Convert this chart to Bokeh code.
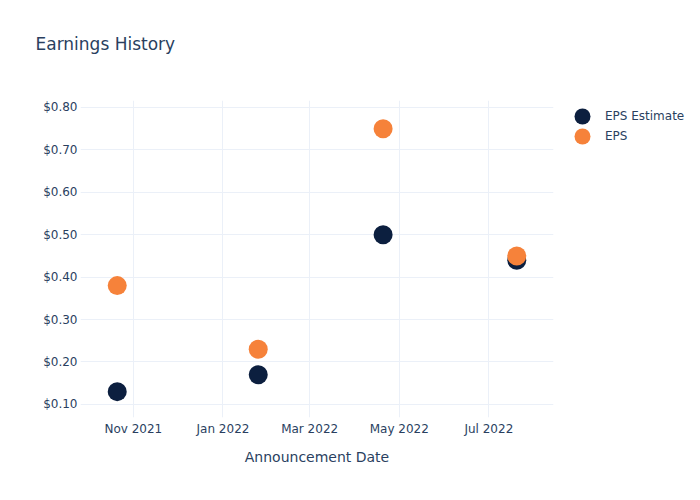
from datetime import datetime
from bokeh.plotting import figure
from bokeh.models import (Range1d, FixedTicker, MonthsTicker, DatetimeTickFormatter,
                          NumeralTickFormatter, Legend, LegendItem, ColumnDataSource, Title)
from bokeh.embed import file_html
from bokeh.resources import INLINE

dates = ["2021-10-21", "2022-01-25", "2022-04-20", "2022-07-20"]
eps_estimate = [0.13, 0.17, 0.50, 0.44]
eps_actual = [0.38, 0.23, 0.75, 0.45]
y_ticks = [0.1, 0.2, 0.3, 0.4, 0.5, 0.6, 0.7, 0.8]
series_names = ["EPS Estimate", "EPS"]
chart_title = "Earnings History"

FONT = "DejaVu Sans"
TXT = "#2a3f5f"
GRID = "#ebf0f8"
NAVY = "#0c1f3f"
ORANGE = "#f6823a"

xs = [datetime.strptime(d, "%Y-%m-%d") for d in dates]
src = ColumnDataSource(dict(x=xs, est=eps_estimate, eps=eps_actual))

p = figure(frame_width=473, frame_height=317, output_backend="svg", toolbar_location=None,
           x_axis_type="datetime",
           x_range=Range1d(datetime(2021, 9, 26), datetime(2022, 8, 14)),
           y_range=Range1d(0.069, 0.8165),
           min_border_left=80, min_border_right=147, min_border_top=100, min_border_bottom=83,
           title=None)
p.outline_line_color = None
p.background_fill_color = "white"
p.border_fill_color = "white"

# spacer between the title and the plot area (closest to the frame)
p.add_layout(Title(text=" ", text_font=FONT, text_font_size="17px", standoff=23), "above")
# the real title, stacked above the spacer
p.add_layout(Title(text=chart_title, text_font=FONT, text_font_size="17px",
                   text_font_style="normal", text_color=TXT, offset=-45,
                   standoff=0, vertical_align="top"), "above")

r1 = p.ellipse("x", "est", source=src, width=19, height=19,
               width_units="screen", height_units="screen",
               fill_color=NAVY, line_color=None)
r2 = p.ellipse("x", "eps", source=src, width=19, height=19,
               width_units="screen", height_units="screen",
               fill_color=ORANGE, line_color=None)

p.xaxis.ticker = MonthsTicker(months=[0, 2, 4, 6, 8, 10])
p.xaxis.formatter = DatetimeTickFormatter(months="%b %Y", days="%b %Y")
p.yaxis.ticker = FixedTicker(ticks=y_ticks)
p.yaxis.formatter = NumeralTickFormatter(format="$0.00")

for ax in (p.xaxis[0], p.yaxis[0]):
    ax.axis_line_color = None
    ax.major_tick_line_color = None
    ax.minor_tick_line_color = None
    ax.major_tick_out = 0
    ax.major_tick_in = 0
    ax.major_label_text_font = FONT
    ax.major_label_text_font_size = "12px"
    ax.major_label_text_color = TXT
p.yaxis.major_label_standoff = 3
p.xaxis.major_label_standoff = 4
p.xaxis.axis_label = "Announcement Date"
p.xaxis.axis_label_text_font = FONT
p.xaxis.axis_label_text_font_size = "14px"
p.xaxis.axis_label_text_font_style = "normal"
p.xaxis.axis_label_text_color = TXT
p.xaxis.axis_label_standoff = 10

p.xgrid.grid_line_color = GRID
p.ygrid.grid_line_color = GRID
p.xgrid.grid_line_width = 1
p.ygrid.grid_line_width = 1

legend = Legend(items=[LegendItem(label=series_names[0], renderers=[r1]),
                       LegendItem(label=series_names[1], renderers=[r2])],
                location="top_left", orientation="vertical",
                glyph_width=46, glyph_height=20, spacing=0, padding=5, margin=6,
                label_standoff=0, border_line_color=None, background_fill_alpha=0,
                label_text_font=FONT, label_text_font_size="12px", label_text_color=TXT)
p.add_layout(legend, "right")

open("out.html", "w").write(file_html(p, INLINE))
